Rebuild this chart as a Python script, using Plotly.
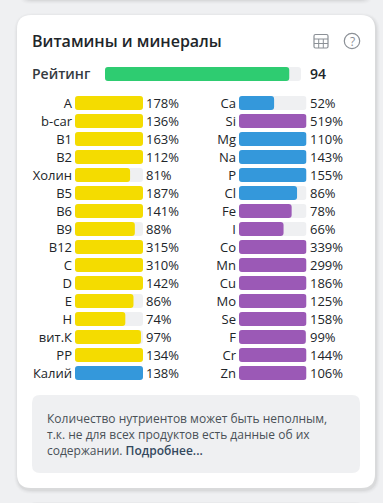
import re
import plotly.graph_objects as go

W, H = 383, 503
PAGE = "#eff0f2"
TRACK = "#eff0f2"
YEL, BLU, PUR, GRN = "#f4dc00", "#3498db", "#9b59b6", "#2ecc71"
DARK = "#212529"
FONT = "Open Sans"

left_names = ["A", "b-car", "B1", "B2", "Холин", "B5", "B6", "B9", "B12", "C", "D", "E", "H", "вит.К", "PP", "Калий"]
left_values = [178, 136, 163, 112, 81, 187, 141, 88, 315, 310, 142, 86, 74, 97, 134, 138]
left_colors = [YEL] * 15 + [BLU]
right_names = ["Ca", "Si", "Mg", "Na", "P", "Cl", "Fe", "I", "Co", "Mn", "Cu", "Mo", "Se", "F", "Cr", "Zn"]
right_values = [52, 519, 110, 143, 155, 86, 78, 66, 339, 299, 186, 125, 158, 99, 144, 106]
right_colors = [BLU, PUR, BLU, BLU, BLU, BLU, PUR, PUR] + [PUR] * 8
rating_value = 94
RADIUS = 3


def px(x):
    return x / W


def py(y):
    return 1 - y / H


def rrect(x0, y0, x1, y1, r):
    return (f"M{x0+r},{y0} L{x1-r},{y0} Q{x1},{y0} {x1},{y0+r} L{x1},{y1-r} Q{x1},{y1} {x1-r},{y1} "
            f"L{x0+r},{y1} Q{x0},{y1} {x0},{y1-r} L{x0},{y0+r} Q{x0},{y0} {x0+r},{y0} Z")


def to_paper(path):
    toks = re.findall(r"[MLQZ]|-?\d+\.?\d*", path)
    out, isx = [], True
    for t in toks:
        if t in "MLQZ":
            out.append(t)
            isx = True
        else:
            out.append(f"{px(float(t)):.5f}" if isx else f"{py(float(t)):.5f}")
            isx = not isx
    return " ".join(out)


fig = go.Figure()


def add_group(names, values, colors, xa, ya):
    fig.add_bar(y=names, x=[100] * len(names), base=0, orientation="h",
                marker=dict(color=TRACK, line_width=0, cornerradius=RADIUS),
                xaxis=xa, yaxis=ya, hoverinfo="skip", showlegend=False)
    fig.add_bar(y=names, x=[min(v, 100) for v in values], base=0, orientation="h",
                marker=dict(color=colors, line_width=0, cornerradius=RADIUS), xaxis=xa, yaxis=ya, showlegend=False)
    for n, v in zip(names, values):
        fig.add_annotation(x=100, y=n, xref=xa, yref=ya, text=f"{v}%", showarrow=False, xanchor="left",
                           xshift=1, yshift=0, font=dict(family=FONT, size=13, color=DARK))


add_group(left_names, left_values, left_colors, "x", "y")
add_group(right_names, right_values, right_colors, "x2", "y2")
add_group(["Рейтинг"], [rating_value], [GRN], "x3", "y3")
fig.layout.annotations[-1].text = f"{rating_value}"
fig.layout.annotations[-1].xshift = 7
fig.layout.annotations[-1].font = dict(family=FONT, size=14, color=DARK, weight=600)

top, bottom = 94, 382
ax = dict(range=[0, 100], visible=False, fixedrange=True)
yax = dict(showgrid=False, zeroline=False, showline=False, ticks="", ticklabelstandoff=2,
           tickfont=dict(family=FONT, size=13, color=DARK), fixedrange=True)

shapes = []
for grow, op in [(4, .012), (3, .018), (2, .025), (1, .035)]:
    shapes.append(dict(type="path", path=rrect(17 - grow + 1, 15 - grow + 2, 375 + grow + 1, 488 + grow + 2, 14 + grow),
                       fillcolor=f"rgba(0,0,0,{op})", line_width=0, layer="below"))
    shapes.append(dict(type="path", path=rrect(23 - grow, -30, 369 + grow, 0 + grow, 10),
                       fillcolor=f"rgba(0,0,0,{op})", line_width=0, layer="below"))
shapes.append(dict(type="path", path=rrect(17, 15, 375, 488, 14), fillcolor="white", line_width=0, layer="below"))
shapes.append(dict(type="path", path=rrect(23, -30, 369, 0, 10), fillcolor="white", line_width=0, layer="below"))
shapes.append(dict(type="path", path=rrect(28, 502, 364, 540, 8), fillcolor="rgba(0,0,0,0.025)", line_width=0, layer="below"))
shapes.append(dict(type="path", path=rrect(32, 395, 360, 473, 8), fillcolor=PAGE, line_width=0, layer="below"))

for s in shapes:
    s["path"] = to_paper(s["path"])
    s["xref"] = "paper"
    s["yref"] = "paper"

ICON = "#8b9096"
shapes.append(dict(type="path", path=to_paper(rrect(314, 34.5, 328, 48, 1.5)), xref="paper", yref="paper",
                   line=dict(color=ICON, width=1.2), fillcolor="rgba(0,0,0,0)"))
for a, b, c, d in [(314, 39, 328, 39), (314, 43.5, 328, 43.5), (318.7, 39, 318.7, 48), (323.3, 39, 323.3, 48)]:
    shapes.append(dict(type="line", x0=px(a), x1=px(c), y0=py(b), y1=py(d), xref="paper", yref="paper",
                       line=dict(color=ICON, width=1)))
shapes.append(dict(type="circle", x0=px(344.3), x1=px(359.7), y0=py(33.3), y1=py(48.7), xref="paper", yref="paper",
                   line=dict(color=ICON, width=1.2), fillcolor="rgba(0,0,0,0)"))


def label(x, y, text, size, color=DARK, anchor="left", weight=400):
    fig.add_annotation(x=px(x), y=py(y), xref="paper", yref="paper", text=text, showarrow=False, xanchor=anchor,
                       yanchor="middle", align="left", borderpad=0, borderwidth=0,
                       font=dict(family=FONT, size=size, color=color, weight=weight))


label(32, 41, "Витамины и минералы", 16, DARK, weight=600)
label(352, 41, "?", 12, ICON, "center")
label(32, 73.5, "Рейтинг", 14, "#343a40", weight=600)
label(47, 418, "Количество нутриентов может быть неполным,", 12, "#495057")
label(47, 434, "т.к. не для всех продуктов есть данные об их", 12, "#495057")
label(47, 450, "содержании. <span style='color:#34495e;font-weight:600'>Подробнее...</span>", 12, "#495057")

fig.update_layout(
    width=W, height=H, margin=dict(l=0, r=0, t=0, b=0), paper_bgcolor=PAGE, plot_bgcolor="rgba(0,0,0,0)",
    barmode="overlay", bargap=0.22, barcornerradius=RADIUS, showlegend=False, shapes=shapes,
    font=dict(family=FONT),
    xaxis=dict(domain=[px(75), px(143)], anchor="y", **ax),
    xaxis2=dict(domain=[px(239), px(306.5)], anchor="y2", **ax),
    xaxis3=dict(domain=[px(105), px(301)], anchor="y3", **ax),
    yaxis=dict(domain=[py(bottom), py(top)], anchor="x", range=[15.5, -0.5], **yax),
    yaxis2=dict(domain=[py(bottom), py(top)], anchor="x2", range=[15.5, -0.5], **yax),
    yaxis3=dict(domain=[py(83), py(65)], anchor="x3", range=[0.5, -0.5], **{**yax, "showticklabels": False}),
)

fig.write_html("out.html", config=dict(displayModeBar=False),
               post_script="document.body.style.margin='0';document.body.style.overflow='hidden';")
